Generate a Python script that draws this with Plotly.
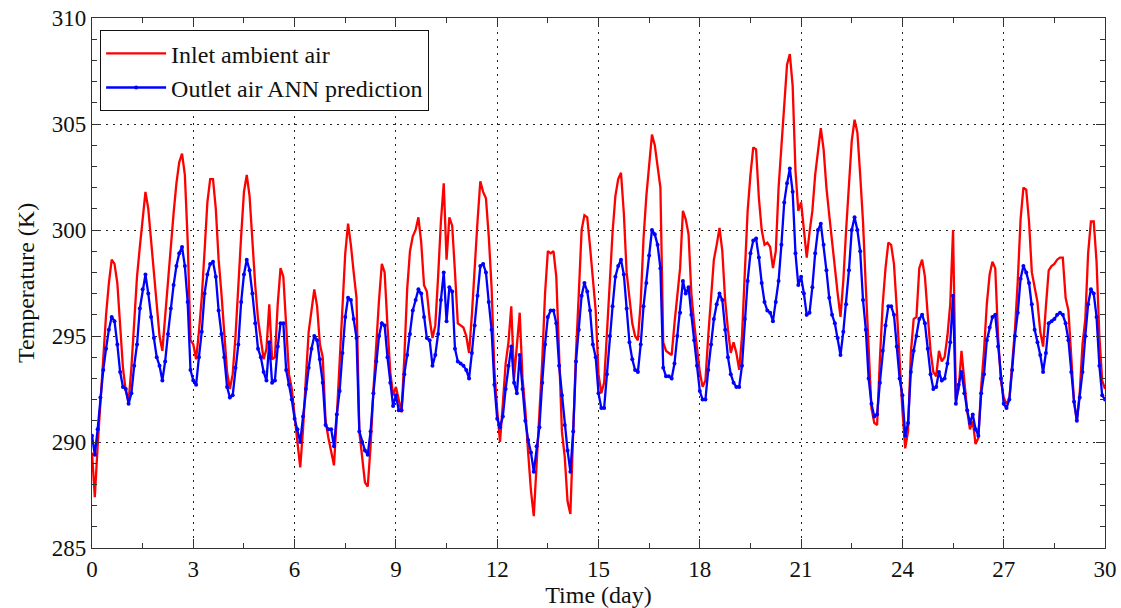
import plotly.graph_objects as go

# Two-hourly samples (12 per day), days 0..29, plus end point at day 30
inlet = [
    289.5, 287.4, 289.8, 292.0, 294.0, 296.0, 297.5, 298.6, 298.4, 297.5, 295.5, 293.5,   # day 0
    292.4, 291.9, 293.5, 295.5, 297.8, 299.2, 300.6, 301.8, 301.0, 299.5, 297.6, 296.3,   # day 1
    295.0, 294.3, 296.0, 297.5, 299.0, 300.8, 302.2, 303.2, 303.6, 302.6, 299.5, 294.8,   # day 2
    294.6, 293.9, 295.2, 296.8, 299.0, 301.3, 302.4, 302.4, 301.0, 298.6, 297.0, 295.2,   # day 3
    293.3, 292.5, 293.2, 295.0, 297.5, 299.7, 301.8, 302.6, 301.6, 299.3, 297.4, 295.8,   # day 4
    294.8, 293.9, 294.4, 296.5, 293.9, 294.0, 296.5, 298.2, 297.8, 295.5, 293.2, 292.5,   # day 5
    291.1, 290.0, 288.8, 290.6, 293.0, 295.2, 296.2, 297.2, 296.4, 294.6, 294.0, 291.0,   # day 6
    290.2, 289.6, 288.9, 291.2, 293.8, 296.5, 298.9, 300.3, 299.3, 298.0, 296.8, 290.5,   # day 7
    289.4, 288.1, 287.9, 289.8, 292.4, 294.6, 296.7, 298.4, 298.0, 295.5, 293.3, 292.2,   # day 8
    292.6, 292.0, 291.4, 294.0, 297.2, 299.0, 299.7, 300.0, 300.6, 299.4, 297.4, 297.1,   # day 9
    295.8, 294.9, 295.5, 297.8, 300.4, 302.2, 298.6, 300.6, 300.2, 298.0, 295.6, 295.5,   # day 10
    295.4, 295.0, 294.2, 296.0, 298.4, 300.4, 302.3, 301.8, 301.5, 299.7, 297.3, 293.4,   # day 11
    291.5, 290.0, 291.8, 293.7, 294.7, 296.4, 293.0, 294.5, 296.1, 293.0, 291.5, 289.5,   # day 12
    287.7, 286.5, 289.0, 291.0, 293.8, 297.0, 299.0, 298.9, 299.0, 297.8, 293.6, 290.5,   # day 13
    289.3, 287.2, 286.6, 290.8, 294.2, 297.0, 300.0, 300.7, 300.6, 299.2, 297.8, 296.2,   # day 14
    293.2, 292.3, 292.8, 295.5, 297.5, 299.9, 301.6, 302.4, 302.7, 300.8, 298.0, 296.8,   # day 15
    295.6, 295.0, 294.8, 296.6, 299.6, 301.6, 303.2, 304.5, 304.0, 303.0, 302.0, 294.7,   # day 16
    294.3, 294.2, 294.1, 295.6, 296.8, 298.2, 300.9, 300.5, 299.8, 297.0, 295.6, 294.5,   # day 17
    293.3, 292.6, 292.9, 295.0, 296.7, 298.6, 299.3, 300.1, 299.0, 296.7, 295.3, 294.2,   # day 18
    294.7, 294.2, 293.4, 295.0, 298.0, 300.9, 302.6, 303.9, 303.8, 301.5, 300.0, 299.3,   # day 19
    299.4, 299.2, 298.2, 299.0, 302.0, 303.9, 305.6, 307.8, 308.3, 306.8, 302.8, 300.9,   # day 20
    301.3, 300.1, 298.7, 299.9, 300.9, 302.6, 303.7, 304.8, 303.8, 302.0, 300.7, 299.4,   # day 21
    298.4, 297.0, 295.9, 297.6, 300.0, 302.0, 304.2, 305.2, 304.6, 302.6, 300.4, 297.3,   # day 22
    294.2, 291.6, 290.9, 290.8, 293.9, 296.5, 298.2, 299.4, 299.3, 298.4, 296.3, 293.8,   # day 23
    291.5, 289.7, 290.5, 294.2, 295.8, 295.9, 298.2, 298.6, 297.8, 296.0, 294.3, 293.3,   # day 24
    293.1, 294.3, 293.8, 294.0, 295.0, 296.5, 300.0, 292.0, 292.5, 294.3, 292.8, 291.5,   # day 25
    290.6, 291.0, 289.9, 290.2, 292.6, 294.3, 296.5, 297.9, 298.5, 298.2, 295.0, 292.9,   # day 26
    292.1, 291.8, 292.0, 293.8, 295.3, 297.6, 300.5, 302.0, 301.9, 300.4, 298.0, 297.3,   # day 27
    296.6, 295.2, 294.5, 296.4, 298.1, 298.3, 298.4, 298.6, 298.7, 298.7, 296.8, 296.2,   # day 28
    294.0, 291.9, 291.0, 292.3, 294.6, 295.8, 298.9, 300.4, 300.4, 298.5, 295.0, 292.9,   # day 29
    292.5,                                                                                 # day 30
]

outlet = [
    290.3, 289.4, 290.6, 292.1, 293.4, 294.4, 295.3, 295.9, 295.7, 294.6, 293.3, 292.6,   # day 0
    292.5, 291.8, 292.3, 293.6, 294.6, 296.3, 297.2, 297.9, 297.0, 295.9, 294.9, 294.0,   # day 1
    293.6, 292.9, 293.8, 295.1, 296.3, 297.4, 298.3, 298.9, 299.2, 298.3, 296.6, 293.4,   # day 2
    292.9, 292.7, 294.0, 295.2, 297.0, 297.9, 298.4, 298.5, 297.8, 296.2, 295.1, 294.0,   # day 3
    292.6, 292.1, 292.2, 293.5, 294.6, 296.6, 297.9, 298.6, 298.1, 297.0, 295.6, 294.4,   # day 4
    294.0, 293.3, 292.9, 294.7, 292.8, 292.9, 294.5, 295.6, 295.6, 293.4, 292.7, 292.0,   # day 5
    291.1, 290.6, 290.0, 291.2, 292.5, 293.5, 294.4, 295.0, 294.8, 293.9, 292.8, 290.8,   # day 6
    290.6, 290.6, 289.8, 291.3, 292.4, 294.2, 295.9, 296.8, 296.7, 295.8, 294.9, 290.5,   # day 7
    290.0, 289.6, 289.4, 290.5, 292.3, 293.8, 295.0, 295.6, 295.5, 294.0, 292.8, 291.7,   # day 8
    292.2, 291.5, 291.5, 293.2, 294.1, 295.1, 296.2, 296.7, 297.2, 297.0, 295.9, 294.9,   # day 9
    294.8, 293.6, 294.1, 295.1, 296.7, 298.0, 295.7, 297.3, 297.1, 294.4, 293.8, 293.7,   # day 10
    293.6, 293.4, 293.0, 294.2, 295.5, 296.9, 298.3, 298.4, 298.0, 296.6, 295.3, 292.7,   # day 11
    291.1, 290.7, 291.2, 292.5, 293.6, 294.5, 292.8, 292.3, 294.1, 292.5, 291.0, 290.1,   # day 12
    289.5, 288.6, 289.8, 290.7, 292.8, 294.6, 295.9, 296.2, 296.2, 295.6, 293.6, 292.2,   # day 13
    290.8, 289.6, 288.6, 290.5, 293.8, 295.3, 296.9, 297.5, 297.1, 296.2, 294.6, 294.0,   # day 14
    292.3, 291.6, 291.6, 293.2, 295.0, 296.4, 297.8, 298.3, 298.6, 297.9, 296.3, 294.7,   # day 15
    293.9, 293.4, 293.3, 294.6, 296.4, 297.5, 298.8, 300.0, 299.8, 299.3, 298.2, 293.5,   # day 16
    293.1, 293.1, 293.0, 293.7, 295.0, 296.1, 297.6, 297.0, 297.3, 296.0, 294.8, 293.6,   # day 17
    292.4, 292.0, 292.0, 293.4, 294.6, 295.8, 296.5, 297.0, 296.7, 295.3, 294.0, 293.2,   # day 18
    292.8, 292.6, 292.6, 293.6, 295.8, 297.6, 298.9, 299.5, 299.6, 298.7, 297.5, 296.6,   # day 19
    296.2, 296.1, 295.7, 296.6, 297.6, 299.3, 301.3, 302.2, 302.9, 301.8, 298.9, 297.4,   # day 20
    297.8, 297.0, 296.0, 296.1, 297.3, 298.9, 300.0, 300.3, 299.3, 298.1, 296.8, 296.0,   # day 21
    295.6, 294.9, 294.1, 295.2, 296.5, 298.1, 300.0, 300.6, 300.0, 299.0, 296.7, 295.3,   # day 22
    293.0, 291.8, 291.2, 291.3, 292.8, 294.3, 295.5, 296.4, 296.4, 296.0, 294.5, 293.0,   # day 23
    292.2, 290.3, 290.9, 293.3, 294.3, 295.0, 295.8, 296.0, 295.6, 294.4, 293.2, 292.5,   # day 24
    292.6, 293.3, 292.9, 293.0, 293.7, 294.7, 296.9, 291.8, 292.7, 293.3, 292.3, 291.5,   # day 25
    290.9, 291.3, 290.6, 290.3, 292.3, 293.2, 294.8, 295.4, 295.9, 296.0, 294.5, 293.0,   # day 26
    291.8, 291.6, 292.0, 293.4, 295.0, 296.1, 297.7, 298.3, 298.0, 297.5, 296.5, 295.3,   # day 27
    294.7, 294.1, 293.3, 294.2, 295.6, 295.7, 295.8, 296.0, 296.1, 296.0, 295.6, 294.8,   # day 28
    293.3, 291.9, 291.0, 292.1, 293.3, 295.0, 296.5, 297.2, 297.0, 295.9, 293.6, 292.2,   # day 29
    292.0,                                                                                 # day 30
]

samples_per_day = 12
time_days = [i / samples_per_day for i in range(len(inlet))]

x_ticks = [0, 3, 6, 9, 12, 15, 18, 21, 24, 27, 30]
y_ticks = [285, 290, 295, 300, 305, 310]

series_names = ["Inlet ambient air", "Outlet air ANN prediction"]

FONT = "Liberation Serif, Times New Roman, serif"
TXT = "#111111"
AX = "#333333"

fig = go.Figure()
fig.add_trace(go.Scatter(
    x=time_days, y=inlet, mode="lines", name=series_names[0],
    line=dict(color="#ff0000", width=2.3),
))
fig.add_trace(go.Scatter(
    x=time_days, y=outlet, mode="lines+markers", name=series_names[1],
    line=dict(color="#0000ff", width=2.3),
    marker=dict(color="#0000ff", size=4, symbol="circle"),
))

axis_common = dict(
    showline=True, linecolor=AX, linewidth=1.2, mirror="ticks",
    ticks="inside", ticklen=9, tickcolor=AX, tickwidth=1,
    showgrid=True, gridcolor="#222222", griddash="2px,5px", gridwidth=1,
    zeroline=False, automargin=False,
    tickfont=dict(family=FONT, size=23, color=TXT),
)

fig.update_xaxes(
    range=[0, 30], tickvals=x_ticks, ticktext=[str(v) for v in x_ticks],
    title=dict(text="Time (day)", font=dict(family=FONT, size=24, color=TXT), standoff=0),
    minor=dict(dtick=1.5, tick0=0, ticks="inside", ticklen=5, tickcolor=AX, showgrid=False),
    **axis_common,
)
fig.update_yaxes(
    range=[285, 310], tickvals=y_ticks, ticktext=[str(v) for v in y_ticks],
    title=dict(text="Temperature (K)", font=dict(family=FONT, size=24, color=TXT), standoff=10),
    minor=dict(dtick=1, tick0=285, ticks="inside", ticklen=5, tickcolor=AX, showgrid=False),
    **axis_common,
)

fig.update_layout(
    width=1121, height=608,
    margin=dict(l=92, r=16, t=18, b=60),
    paper_bgcolor="white", plot_bgcolor="white",
    showlegend=True,
    legend=dict(
        x=0.008, y=0.977, xanchor="left", yanchor="top",
        bgcolor="white", bordercolor=TXT, borderwidth=1,
        font=dict(family=FONT, size=24, color=TXT),
        itemwidth=60,
    ),
)

fig.write_html(
    "out.html",
    config={"displayModeBar": False},
    post_script="document.body.style.margin='0';",
)
